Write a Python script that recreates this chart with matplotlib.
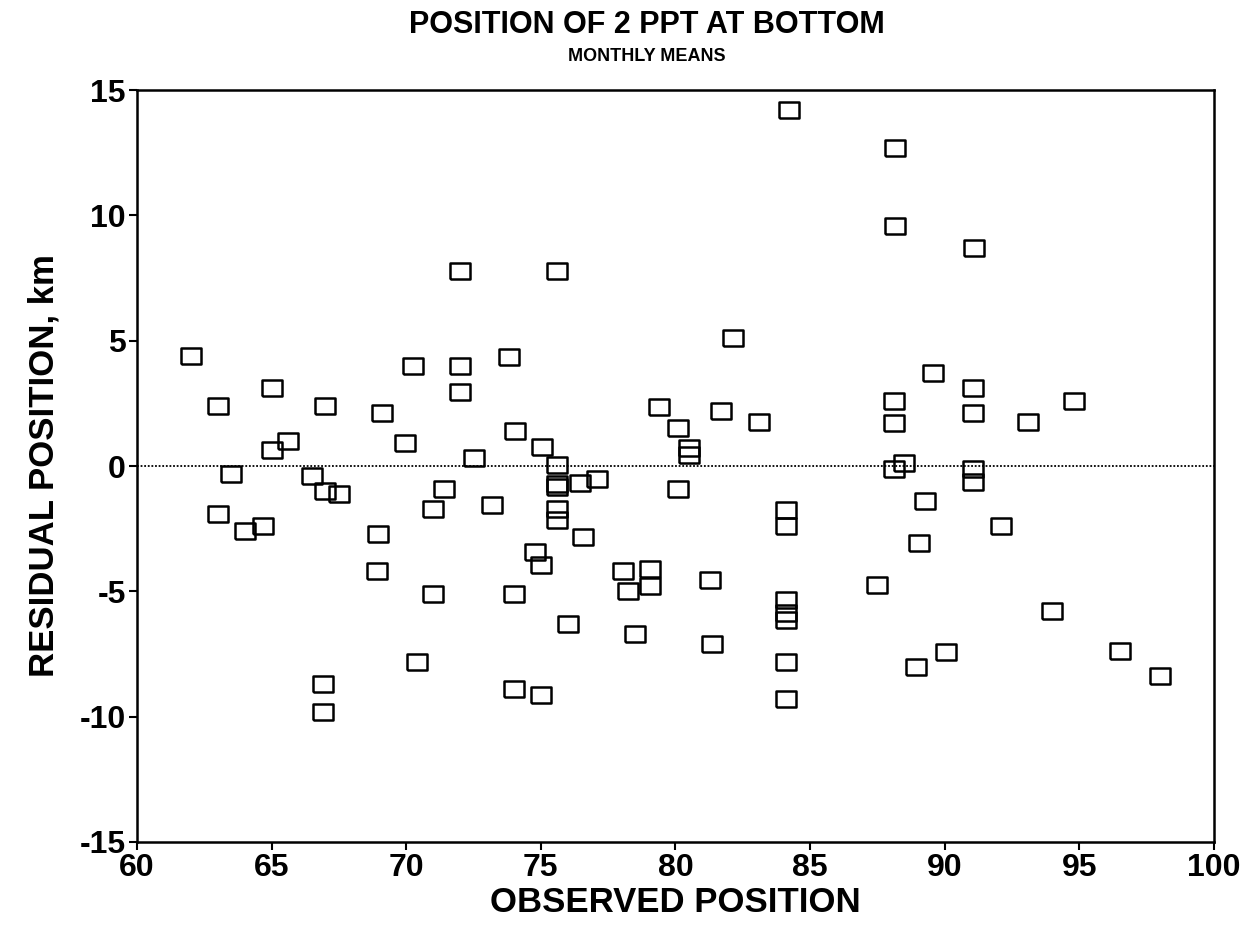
import numpy as np
import matplotlib
matplotlib.use("Agg")
import matplotlib.pyplot as plt

# monthly mean positions of 2 ppt (km) and regression residuals
observed = [62.0, 63.0, 63.0, 63.5, 64.0, 64.7, 65.0, 65.0, 65.6, 66.5,
            67.0, 67.0, 67.5, 66.9, 66.9, 69.1, 68.95, 68.9, 70.25, 69.95,
            71.4, 71.0, 71.0, 70.4, 72.0, 72.0, 72.0, 72.5, 73.2, 73.8,
            74.05, 74.0, 74.0, 74.8, 75.0, 75.0, 75.05, 75.6, 75.6, 75.6,
            75.6, 75.6, 75.6, 76.0, 76.45, 76.55, 77.1, 78.05, 78.25, 78.5,
            79.05, 79.05, 79.4, 80.1, 80.5, 80.5, 80.1, 81.3, 81.35, 81.7,
            82.15, 83.1, 84.2, 84.1, 84.1, 84.1, 84.1, 84.1, 84.1, 84.1,
            87.5, 88.15, 88.15, 88.1, 88.1, 88.1, 88.5, 88.95, 89.05, 89.25,
            89.55, 90.05, 91.1, 91.05, 91.05, 91.05, 91.05, 92.1, 93.1, 94.0,
            94.8, 96.5, 98.0]
residual = [4.4, 2.4, -1.9, -0.3, -2.6, -2.4, 3.1, 0.65, 1.0, -0.4,
            2.4, -1.0, -1.1, -8.7, -9.8, 2.1, -2.7, -4.2, 4.0, 0.9,
            -0.9, -1.7, -5.1, -7.8, 7.8, 4.0, 2.95, 0.3, -1.55, 4.35,
            1.4, -5.1, -8.9, -3.45, -3.95, -9.15, 0.75, 7.8, 0.03, -0.72,
            -0.82, -1.7, -2.15, -6.3, -0.67, -2.83, -0.5, -4.2, -5.0, -6.7,
            -4.1, -4.8, 2.35, 1.5, 0.7, 0.43, -0.93, -4.55, -7.1, 2.2,
            5.1, 1.75, 14.2, -1.76, -2.4, -5.35, -5.85, -6.15, -7.8, -9.28,
            -4.75, 12.7, 9.57, 2.6, 1.73, -0.1, 0.12, -8.0, -3.07, -1.38,
            3.73, -7.42, 8.68, 3.12, 2.1, -0.1, -0.63, -2.4, 1.77, -5.8,
            2.6, -7.38, -8.38]

x_ticks = [60, 65, 70, 75, 80, 85, 90, 95, 100]
y_ticks = [-15, -10, -5, 0, 5, 10, 15]

plt.rcParams['font.family'] = ['Liberation Sans', 'DejaVu Sans']
plt.rcParams['font.weight'] = 'bold'
plt.rcParams['axes.unicode_minus'] = False

fig = plt.figure(figsize=(12.56, 9.35), dpi=100)
ax = fig.add_axes([0.109, 0.0995, 0.8576, 0.8042])

# open rectangle marker, a bit wider than tall
box = [(-1, -0.76), (1, -0.76), (1, 0.76), (-1, 0.76), (-1, -0.76)]
ax.plot(observed, residual, linestyle='none', marker=box, markersize=14.5,
        markerfacecolor='none', markeredgecolor='black', markeredgewidth=1.8)

ax.axhline(0, color='black', linestyle=(0, (1, 1)), linewidth=1.3)

ax.set_xlim(60, 100)
ax.set_ylim(-15, 15)
ax.set_xticks(x_ticks)
ax.set_yticks(y_ticks)
ax.tick_params(direction='out', length=6, width=1.5, labelsize=23, pad=2)
for s in ax.spines.values():
    s.set_linewidth(1.8)

ax.set_xlabel('OBSERVED POSITION', fontsize=25, fontweight='bold', labelpad=2)
ax.set_ylabel('RESIDUAL POSITION, km', fontsize=25, fontweight='bold', labelpad=14)

fig.text(0.515, 0.973, 'POSITION OF 2 PPT AT BOTTOM', ha='center', va='center',
         fontsize=22, fontweight='bold')
fig.text(0.515, 0.94, 'MONTHLY MEANS', ha='center', va='center',
         fontsize=13, fontweight='bold')

fig.savefig('out.png', dpi=100)
